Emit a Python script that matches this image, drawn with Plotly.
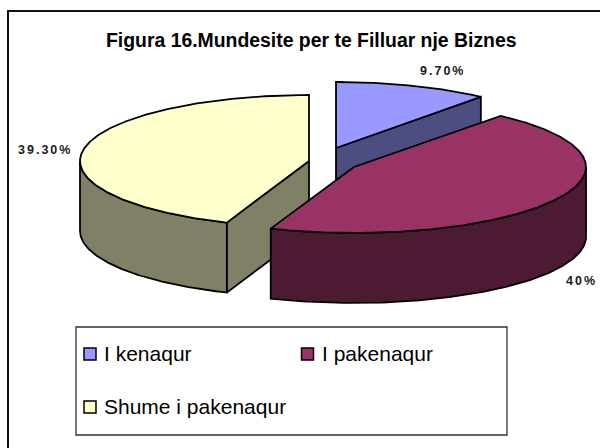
import numpy as np
import plotly.graph_objects as go

# ---- data ----
categories = ["I kenaqur", "I pakenaqur", "Shume i pakenaqur"]
values = [9.7, 40.0, 39.3]
value_labels = ["9.70%", "40%", "39.30%"]
title_text = "Figura 16.Mundesite per te Filluar nje Biznes"

# ---- styling / layout ----
top_colors = ["#9999FF", "#993366", "#FFFFCC"]
side_colors = ["#4D4D80", "#4D1A33", "#808066"]
centers = [(336, 148), (354, 167), (309, 161)]   # exploded slice centres
radii_x = [229, 232, 229]
RY, DEPTH = 66, 70
FONT = "Liberation Sans, Arial, sans-serif"
LINE = dict(color="black", width=1.8)

total = sum(values)
edges = np.concatenate([[0], np.cumsum(values)]) / total * 360.0


def rim(c, rx, a0, a1, drop=0.0):
    t = np.radians(np.linspace(a0, a1, max(int(abs(a1 - a0)) * 2, 2)))
    return c[0] + rx * np.sin(t), c[1] - RY * np.cos(t) + drop


def poly(x, y, color):
    return go.Scatter(x=np.r_[x, x[0]], y=np.r_[y, y[0]], mode="lines", fill="toself",
                      fillcolor=color, line=LINE, hoverinfo="skip", showlegend=False)


fig = go.Figure()

# draw order: back slice first, front slice last
for i in [0, 2, 1]:
    c, rx, a0, a1 = centers[i], radii_x[i], edges[i], edges[i + 1]
    # radial faces that look towards the viewer
    for a in (a0, a1):
        if a in (0.0, 360.0) or (i == 1):
            continue
        ex, ey = rim(c, rx, a, a + 1e-6)
        x = np.array([c[0], ex[0], ex[0], c[0]])
        y = np.array([c[1], ey[0], ey[0] + DEPTH, c[1] + DEPTH])
        fig.add_trace(poly(x, y, side_colors[i]))
    # outer wall (front half only)
    w0, w1 = max(a0, 90.0), min(a1, 270.0)
    if w1 > w0:
        xt, yt = rim(c, rx, w0, w1)
        xb, yb = rim(c, rx, w0, w1, DEPTH)
        fig.add_trace(poly(np.r_[xt, xb[::-1]], np.r_[yt, yb[::-1]], side_colors[i]))
    # top face
    xt, yt = rim(c, rx, a0, a1)
    fig.add_trace(poly(np.r_[c[0], xt], np.r_[c[1], yt], top_colors[i]))

# legend box
fig.add_shape(type="rect", x0=76, y0=327, x1=507, y1=435,
              line=dict(color="#333333", width=1.3), fillcolor="white", layer="below")
# outer chart frame (runs off the right/bottom of the picture)
fig.add_shape(type="rect", x0=8, y0=11, x1=640, y1=480,
              line=dict(color="#111111", width=2), layer="below")

# legend entries
legend_pos = [(90, 354), (307.5, 354), (90, 407)]
legend_text_x = [103, 321, 103]
for name, col, (lx, ly), tx in zip(categories, top_colors, legend_pos, legend_text_x):
    fig.add_trace(go.Scatter(
        x=[lx], y=[ly], mode="markers",
        marker=dict(symbol="square", size=12, color=col, line=dict(color="black", width=1.5)),
        hoverinfo="skip", showlegend=False, cliponaxis=False))
    fig.add_annotation(x=tx, y=ly - 1, text=name, showarrow=False,
                       font=dict(family=FONT, size=21, color="black"),
                       xanchor="left", yanchor="middle", xshift=-1)

# data labels
label_pos = [(442, 71), (581, 281), (45, 150)]
for txt, (lx, ly) in zip(value_labels, label_pos):
    fig.add_annotation(x=lx, y=ly, text=f"<b>{txt}</b>", showarrow=False,
                       font=dict(family=FONT, size=12.5, color="#1a1a1a"),
                       xanchor="center", yanchor="middle")

fig.add_annotation(x=311, y=39.5, text=f"<b>{title_text}</b>", showarrow=False,
                   font=dict(family=FONT, size=19.4, color="black"),
                   xanchor="center", yanchor="middle")

fig.update_layout(
    width=600, height=448, margin=dict(l=0, r=0, t=0, b=0),
    paper_bgcolor="white", plot_bgcolor="white", showlegend=False,
    xaxis=dict(range=[0, 600], visible=False, fixedrange=True),
    yaxis=dict(range=[448, 0], visible=False, fixedrange=True),
)

post = """
document.body.style.margin='0';
document.querySelectorAll('.annotation-text').forEach(function(t){
  if(/%/.test(t.textContent)) t.style.letterSpacing='2px';
});
"""
fig.write_html("out.html", config={"displayModeBar": False}, post_script=post)
